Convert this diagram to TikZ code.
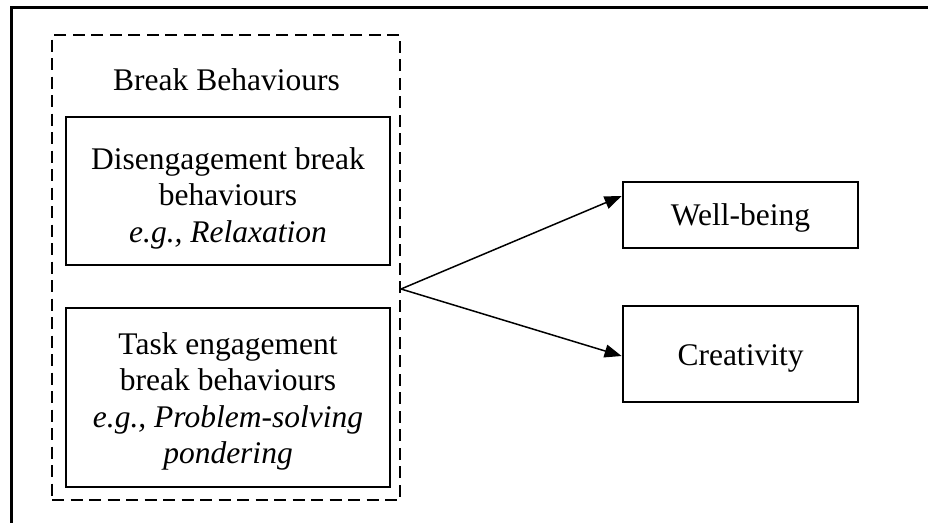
\documentclass[tikz,border=0pt]{standalone}
\usepackage{fontspec}
\setmainfont{Liberation Serif}
\usetikzlibrary{arrows.meta}

\tikzset{
  frameline/.style={line width=3pt},
  groupbox/.style={draw, line width=2.8pt, dash pattern=on 12pt off 6.5pt,
    inner sep=0pt},
  itembox/.style={draw, line width=2.8pt, inner sep=0pt},
  label/.style={inner sep=0pt, align=center,
    font=\fontsize{31.5}{36.5}\selectfont},
  link/.style={line width=1.5pt, -{Triangle[length=17pt,width=13pt]}}
}

\begin{document}
\begin{tikzpicture}[x=1pt, y=-1pt]
  \useasboundingbox (0,0) rectangle (928,522);

  % outer frame, running off the right and bottom edges
  \draw[frameline] (11,530) -- (11,7) -- (935,7);

  % group of break behaviours
  \node[groupbox, minimum width=348pt, minimum height=465pt] (group) at (226,267.5) {};
  \node[label, anchor=base] (title) at (226.5,90) {Break Behaviours};

  \node[itembox, minimum width=324pt, minimum height=148pt] (diseng) at (228,191) {};
  \node[label] (disengtext) at ([yshift=-7pt]diseng.center)
    {Disengagement break\\ behaviours\\ \textit{e.g., Relaxation}};

  \node[itembox, minimum width=324pt, minimum height=179pt] (task) at (228,397.5) {};
  \node[label] (tasktext) at ([yshift=-4pt]task.center)
    {Task engagement\\ break behaviours\\ \textit{e.g., Problem-solving}\\ \textit{pondering}};

  % outcomes
  \node[itembox, minimum width=235pt, minimum height=66pt] (well) at (740.5,215) {};
  \node[label] (welltext) at ([yshift=-3pt]well.center) {Well-being};

  \node[itembox, minimum width=235pt, minimum height=96pt] (creat) at (740.5,354) {};
  \node[label] (creattext) at ([yshift=-4pt]creat.center) {Creativity};

  % links from the group to the outcomes
  \coordinate (src) at (401,289);
  \draw[link] (src) -- ([yshift=19pt]well.west);
  \draw[link] (src) -- ([yshift=-2pt]creat.west);
\end{tikzpicture}
\end{document}
